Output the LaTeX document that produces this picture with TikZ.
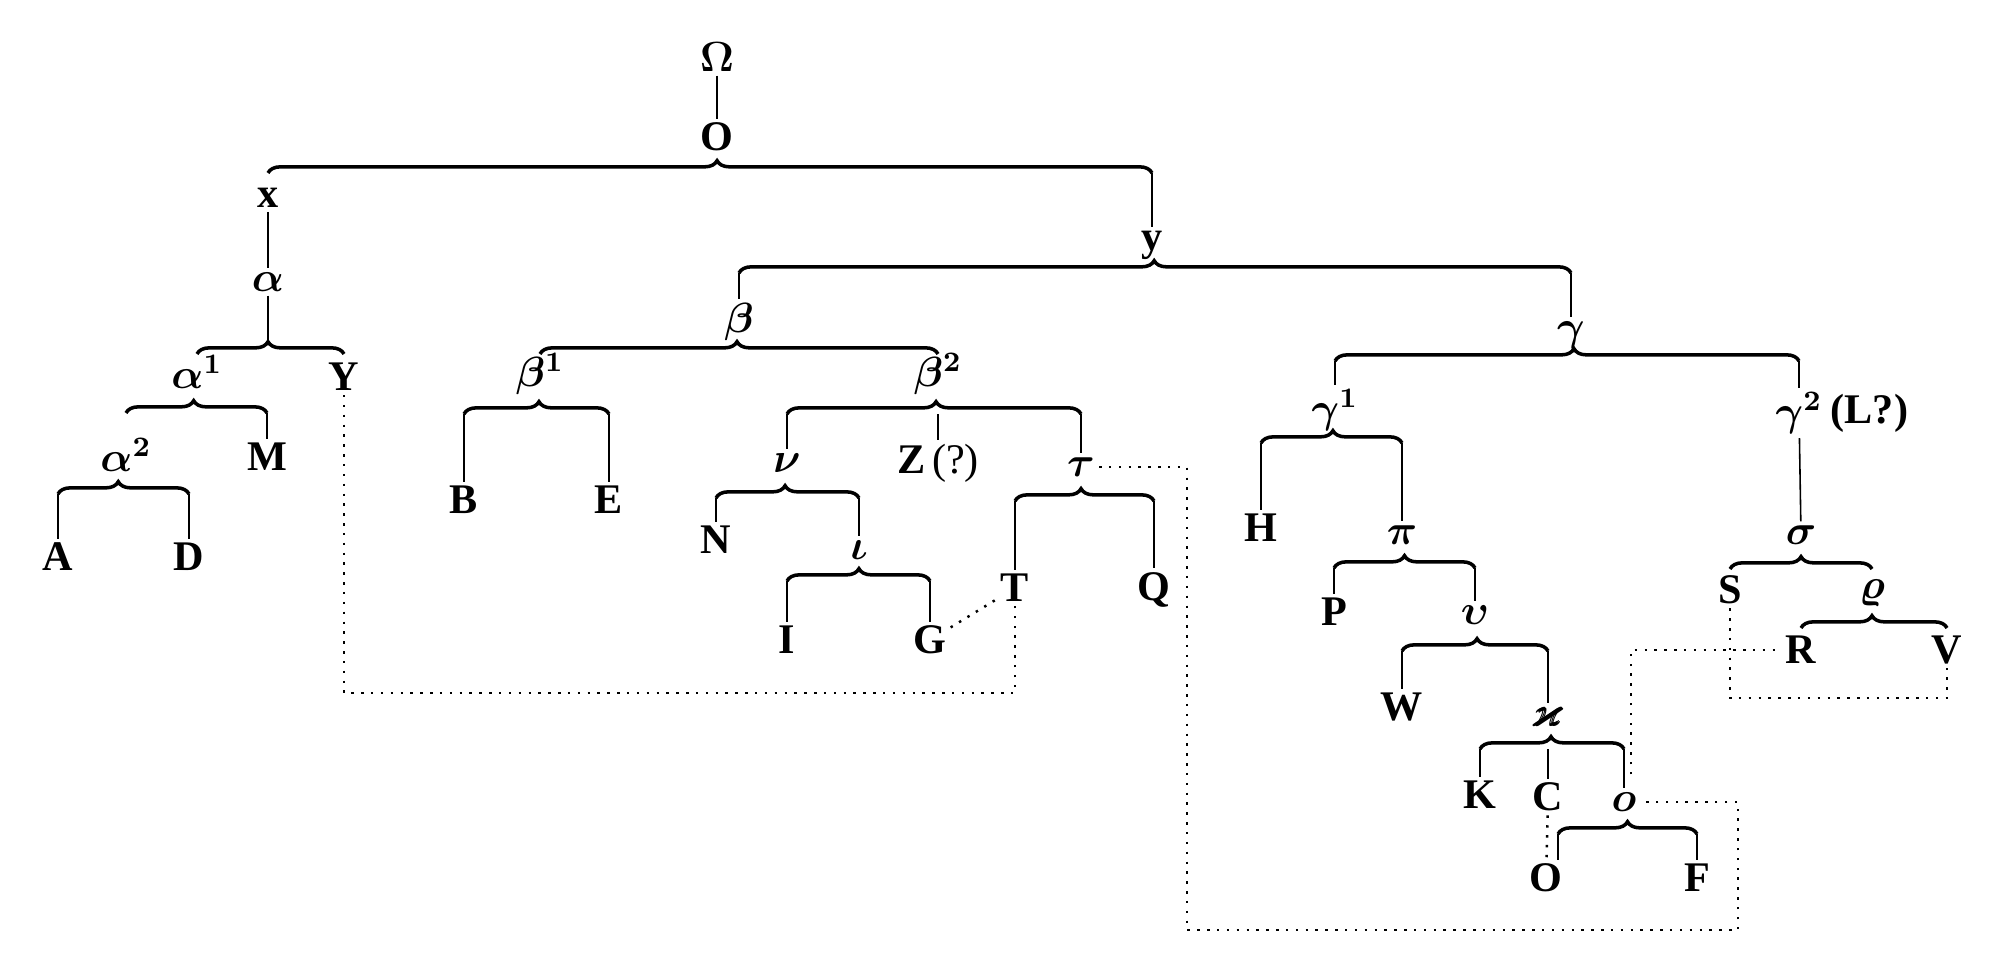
\documentclass[tikz,border=0pt]{standalone}
\usepackage{fontspec}
\usepackage{amsmath,amssymb}
\setmainfont{Liberation Serif}
\usetikzlibrary{decorations.pathreplacing,calc}
\tikzset{
  ms/.style={inner sep=1pt,font=\large\bfseries\boldmath},
  brc/.style={decorate,decoration={brace,amplitude=3.5pt,aspect=#1},line width=1pt},
  brc/.default=0.5,
  stem/.style={line width=0.45pt},
  trace/.style={line width=0.7pt,dash pattern=on 0.7pt off 2.1pt}
}

\begin{document}
\begin{tikzpicture}[x=0.01cm,y=-0.01cm]
  \useasboundingbox (0,0) rectangle (1992,958);
  % archetype and first split
  \node[ms] (Om) at (717,57) {$\Omega$};
  \node[ms] (O0) at (717,137) {O};
  \node[ms] (nx) at (268,198) {x};
  \node[ms] (ny) at (1152,245) {y};
  % family x
  \node[ms] (al) at (268,282) {$\alpha$};
  \node[ms] (al1) at (197,372) {$\alpha^1$};
  \node[ms] (Y) at (344,377) {Y};
  \node[ms] (al2) at (126,455) {$\alpha^2$};
  \node[ms] (M) at (267,457) {M};
  \node[ms] (A) at (58,557) {A};
  \node[ms] (D) at (189,557) {D};
  % family beta
  \node[ms] (be) at (739,322) {$\beta$};
  \node[ms] (be1) at (540,374) {$\beta^1$};
  \node[ms] (be2) at (938,374) {$\beta^2$};
  \node[ms] (B) at (464,500) {B};
  \node[ms] (E) at (609,500) {E};
  \node[ms] (nu) at (787,463) {$\nu$};
  \node[ms] (Z) at (938,463) {Z\,{\mdseries(?)}};
  \node[ms] (tau) at (1081,467) {$\tau$};
  \node[ms] (N) at (716,540) {N};
  \node[ms] (io) at (859,550) {$\iota$};
  \node[ms] (I) at (787,640) {I};
  \node[ms] (G) at (930,640) {G};
  \node[ms] (T) at (1015,588) {T};
  \node[ms] (Q) at (1154,590) {Q};
  % family gamma
  \node[ms] (ga) at (1571,335) {$\gamma$};
  \node[ms] (ga1) at (1335,410) {$\gamma^1$};
  \node[ms,label={[ms]right:(L?)}] (ga2) at (1799,413) {$\gamma^2$};
  \node[ms] (H) at (1261,528) {H};
  \node[ms] (pi) at (1402,535) {$\pi$};
  \node[ms] (P) at (1334,612) {P};
  \node[ms] (up) at (1475,615) {$\upsilon$};
  \node[ms] (W) at (1402,707) {W};
  \node[ms] (ka) at (1548,717) {$\pmb{\varkappa}$};
  \node[ms] (K) at (1480,795) {K};
  \node[ms] (C) at (1548,797) {C};
  \node[ms] (om) at (1624,802) {$o$};
  \node[ms] (O) at (1546,878) {O};
  \node[ms] (F) at (1697,878) {F};
  \node[ms] (si) at (1801,535) {$\sigma$};
  \node[ms] (S) at (1730,590) {S};
  \node[ms] (rh) at (1872,593) {$\varrho$};
  \node[ms] (R) at (1801,650) {R};
  \node[ms] (V) at (1947,650) {V};
  \coordinate (Oe) at ($(O)+(12,0)$);

  % braces
  \foreach \l/\r/\h/\a in {nx/ny/173/0.508, al1/Y/354/0.483, al2/M/413/0.48, A/D/494/0.46,
      be/ga/273/0.499, be1/be2/354/0.495, B/E/414/0.517, nu/tau/414/0.507,
      N/io/498/0.483, I/G/581/0.503, T/Q/501/0.475, ga1/ga2/361/0.515,
      H/pi/443/0.51, P/up/568/0.5, W/ka/651/0.514, K/om/749/0.493,
      Oe/F/834/0.5, S/rh/569/0.5, R/V/628/0.486}
    \draw[brc=\a] (\l |- 0,\h) -- (\r |- 0,\h);

  % stems
  \draw[stem] (Om) -- (O0);
  \draw[stem] (nx) -- (al);
  \draw[stem] (al) -- (al |- 0,342);
  \draw[stem] (ga2) -- (si);
  \draw[stem] (Oe |- 0,834) -- (Oe |- O.north);
  \foreach \c/\h in {ny/173, M/413, A/494, D/494, be/273, ga/273, B/414, E/414,
      nu/414, Z/414, tau/414, N/498, io/498, I/581, G/581, T/501, Q/501,
      ga1/361, ga2/361, H/443, pi/443, P/568, up/568, W/651, ka/651,
      K/749, C/749, om/749, F/834}
    \draw[stem] (\c |- 0,\h) -- (\c);

  % contamination
  \coordinate (yb) at (0,693);
  \coordinate (lb) at (1187,930);
  \coordinate (rb) at (1738,930);
  \coordinate (sv) at (0,698);
  \draw[trace] (Y) -- (Y |- yb) -| (T);
  \draw[trace] (G) -- (T);
  \draw[trace] (tau) -| (lb) -- (rb) |- (om);
  \draw[trace] ([xshift=2pt,yshift=4pt]om.north) |- (R);
  \draw[trace] (S) -- (S |- sv) -| (V);
  \draw[trace] (C) -- (O);
\end{tikzpicture}
\end{document}
